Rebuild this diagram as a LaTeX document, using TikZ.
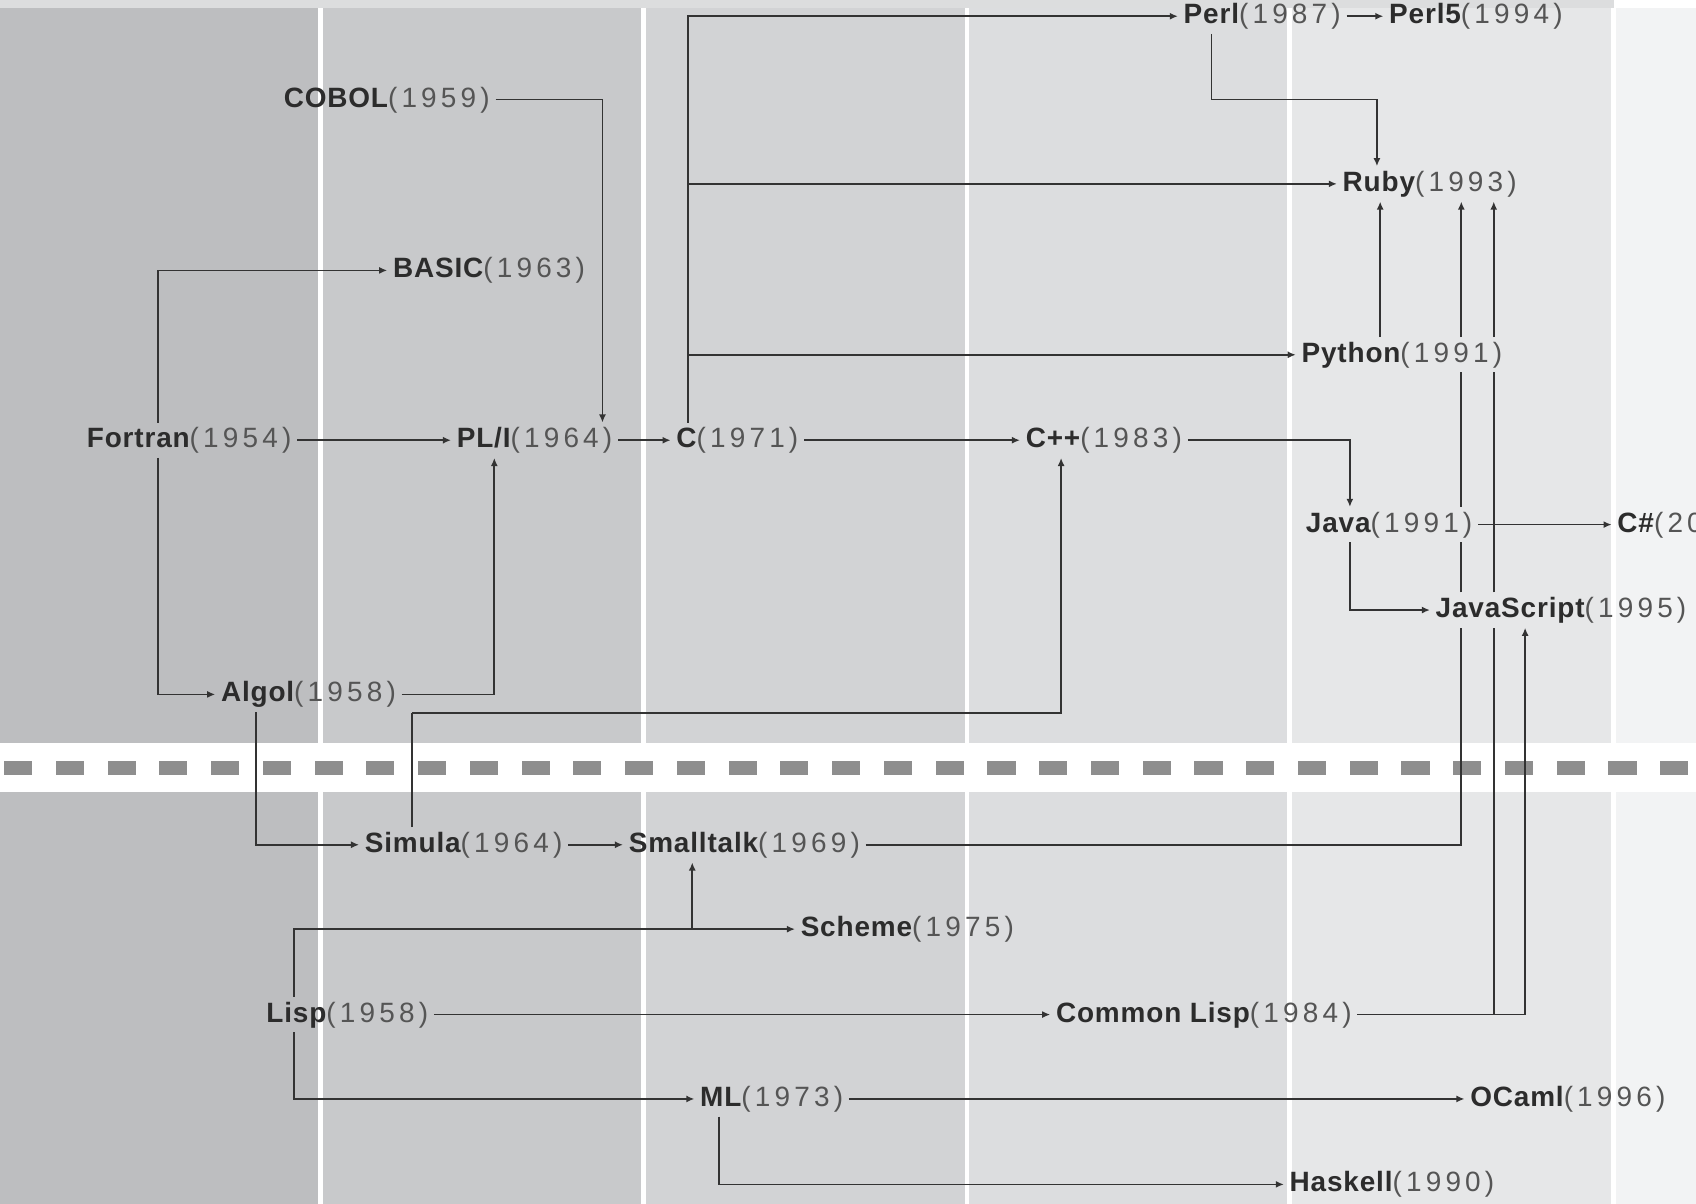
\documentclass[tikz,border=0pt]{standalone}
\usepackage{fontspec}
\setmainfont{Liberation Sans}
\newfontfamily\nameFont{Liberation Sans}[LetterSpace=3]
\newfontfamily\yearFont{Liberation Sans}[LetterSpace=15]
\usepackage{xcolor}
\usetikzlibrary{arrows.meta,calc}
\definecolor{colA}{HTML}{BDBEC0}
\definecolor{colB}{HTML}{C8C9CB}
\definecolor{colC}{HTML}{D2D3D5}
\definecolor{colD}{HTML}{DCDDDF}
\definecolor{colE}{HTML}{E6E7E8}
\definecolor{colF}{HTML}{F2F3F4}
\definecolor{topGray}{HTML}{DCDDDE}
\definecolor{dashGray}{HTML}{8E8E8E}
\definecolor{lineGray}{HTML}{333333}
\definecolor{nameInk}{HTML}{2C2C2C}
\definecolor{yearInk}{HTML}{555555}
\tikzset{
  arrow/.style={-{Latex[length=1.5mm,width=1.3mm]}, draw=lineGray, line width=0.9pt},
  link/.style={draw=lineGray, line width=0.9pt},
  lang/.style={anchor=west, inner xsep=0.1cm, inner ysep=0.06cm, text height=0.40cm, text depth=0.12cm, font=\fontsize{14.7}{17}\selectfont, text=nameInk}
}
\newcommand{\plang}[2]{{\nameFont\bfseries #1}{\yearFont\color{yearInk}(#2)}}

\begin{document}
\begin{tikzpicture}[x=1cm,y=1cm]

% --------------------------------------------------------------------------
% Background: year columns and separator band
% --------------------------------------------------------------------------
\useasboundingbox (0,0) rectangle (31.36,-22.26);
\fill[white] (0,0) rectangle (31.36,-22.26);
\foreach \xa/\xb/\tone in {0/5.875/colA, 5.965/11.855/colB, 11.945/17.835/colC, 17.925/23.795/colD, 23.885/29.795/colE, 29.885/31.36/colF}
  \fill[\tone] (\xa,-0.14) rectangle (\xb,-22.26);
\fill[topGray] (0,0) rectangle (29.84,-0.14);
\fill[white] (0,-13.745) rectangle (31.36,-14.64);
\foreach \i in {0,...,32}
  \fill[dashGray] ({0.074+\i*0.957},-14.066) rectangle ++(0.52,-0.264);

% --------------------------------------------------------------------------
% Upper family
% --------------------------------------------------------------------------
\node[lang] (cobol) at (5.14,-1.84) {\plang{COBOL}{1959}};
\node[lang] (basic) at (7.16,-5.00) {\plang{BASIC}{1963}};
\node[lang] (fortran) at (1.50,-8.14) {\plang{Fortran}{1954}};
\node[lang] (plOne) at (8.34,-8.14) {\plang{PL/I}{1964}};
\node[lang] (cLang) at (12.40,-8.14) {\plang{C}{1971}};
\node[lang] (cPlus) at (18.86,-8.14) {\plang{C++}{1983}};
\node[lang] (perl) at (21.78,-0.30) {\plang{Perl}{1987}};
\node[lang] (perlFive) at (25.58,-0.30) {\plang{Perl5}{1994}};
\node[lang] (ruby) at (24.72,-3.40) {\plang{Ruby}{1993}};
\node[lang] (python) at (23.96,-6.56) {\plang{Python}{1991}};
\node[lang] (java) at (24.04,-9.70) {\plang{Java}{1991}};
\node[lang] (cSharp) at (29.80,-9.70) {\plang{C\#}{2000}};
\node[lang] (javaScript) at (26.44,-11.28) {\plang{JavaScript}{1995}};
\node[lang] (algol) at (3.98,-12.84) {\plang{Algol}{1958}};

% --------------------------------------------------------------------------
% Lower family
% --------------------------------------------------------------------------
\node[lang] (simula) at (6.64,-15.62) {\plang{Simula}{1964}};
\node[lang] (smalltalk) at (11.52,-15.62) {\plang{Smalltalk}{1969}};
\node[lang] (scheme) at (14.70,-17.18) {\plang{Scheme}{1975}};
\node[lang] (lisp) at (4.82,-18.76) {\plang{Lisp}{1958}};
\node[lang] (commonLisp) at (19.42,-18.76) {\plang{Common Lisp}{1984}};
\node[lang] (ml) at (12.84,-20.32) {\plang{ML}{1973}};
\node[lang] (ocaml) at (27.08,-20.32) {\plang{OCaml}{1996}};
\node[lang] (haskell) at (23.74,-21.90) {\plang{Haskell}{1990}};

% bend columns
\coordinate (fTrunk) at (2.92,0);
\coordinate (cobolDrop) at (11.14,0);
\coordinate (algolRise) at (9.14,0);
\coordinate (cTrunk) at (12.72,0);
\coordinate (perlDrop) at (22.40,0);
\coordinate (perlBend) at (25.46,-1.84);
\coordinate (pyRise) at (25.52,0);
\coordinate (javaDrop) at (24.96,0);
\coordinate (algolDrop) at (4.74,0);
\coordinate (simBend) at (7.62,-13.18);
\coordinate (cppRise) at (19.62,0);
\coordinate (stRise) at (27.02,0);
\coordinate (clRuby) at (27.62,0);
\coordinate (clJs) at (28.20,0);
\coordinate (lispTrunk) at (5.44,0);
\coordinate (stFork) at (12.80,0);
\coordinate (mlDrop) at (13.30,0);

% --------------------------------------------------------------------------
% Connectors
% --------------------------------------------------------------------------
\draw[arrow] (fortran.east) -- (plOne.west);
\draw[arrow] (fortran.north -| fTrunk) |- (basic.west);
\draw[arrow] (fortran.south -| fTrunk) |- (algol.west);
\draw[arrow] (cobol.east) -| (plOne.north -| cobolDrop);
\draw[arrow] (algol.east) -| (plOne.south -| algolRise);
\draw[arrow] (plOne.east) -- (cLang.west);
\draw[arrow] (cLang.north -| cTrunk) |- (perl.west);
\draw[arrow] (ruby.west -| cTrunk) -- (ruby.west);
\draw[arrow] (python.west -| cTrunk) -- (python.west);
\draw[arrow] (cLang.east) -- (cPlus.west);
\draw[arrow] (perl.east) -- (perlFive.west);
\draw[arrow] (perl.south -| perlDrop) |- (perlBend) -- (ruby.north -| perlBend);
\draw[arrow] (python.north -| pyRise) -- (ruby.south -| pyRise);
\draw[arrow] (cPlus.east) -| (java.north -| javaDrop);
\draw[arrow] (java.east) -- (cSharp.west);
\draw[arrow] (java.south -| javaDrop) |- (javaScript.west);

\draw[arrow] (algol.south -| algolDrop) |- (simula.west);
\draw[link] (simula.north -| simBend) -- (simBend);
\draw[arrow] (simBend) -| (cPlus.south -| cppRise);
\draw[arrow] (simula.east) -- (smalltalk.west);

% Smalltalk to Ruby, broken under the labels it passes
\draw[link] (smalltalk.east) -| (javaScript.south -| stRise);
\draw[link] (javaScript.north -| stRise) -- (java.south -| stRise);
\draw[link] (java.north -| stRise) -- (python.south -| stRise);
\draw[arrow] (python.north -| stRise) -- (ruby.south -| stRise);

% Common Lisp to Ruby and JavaScript
\draw[link] (commonLisp.east) -| (javaScript.south -| clRuby);
\draw[link] (javaScript.north -| clRuby) -- (python.south -| clRuby);
\draw[arrow] (python.north -| clRuby) -- (ruby.south -| clRuby);
\draw[arrow] (commonLisp.east) -| (javaScript.south -| clJs);

\draw[arrow] (lisp.north -| lispTrunk) |- (scheme.west);
\draw[arrow] (scheme.west -| stFork) -- (smalltalk.south -| stFork);
\draw[arrow] (lisp.east) -- (commonLisp.west);
\draw[arrow] (lisp.south -| lispTrunk) |- (ml.west);
\draw[arrow] (ml.east) -- (ocaml.west);
\draw[arrow] (ml.south -| mlDrop) |- (haskell.west);

\end{tikzpicture}
\end{document}
